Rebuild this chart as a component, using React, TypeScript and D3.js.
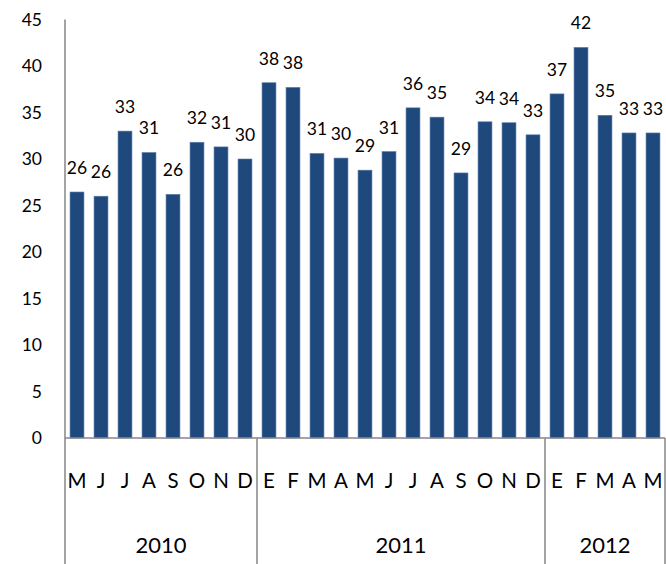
import React from "react";
import * as d3 from "d3";

const months = ["M","J","J","A","S","O","N","D","E","F","M","A","M","J","J","A","S","O","N","D","E","F","M","A","M"];
const values = [26.45,26.0,33.0,30.7,26.2,31.8,31.3,30.0,38.2,37.7,30.6,30.1,28.8,30.8,35.5,34.5,28.5,34.0,33.9,32.6,37.0,42.0,34.7,32.8,32.8];
const labels = [26,26,33,31,26,32,31,30,38,38,31,30,29,31,36,35,29,34,34,33,37,42,35,33,33];
const years = [
  { year: "2010", start: 0, end: 8 },
  { year: "2011", start: 8, end: 20 },
  { year: "2012", start: 20, end: 25 },
];
const yTicks = [0,5,10,15,20,25,30,35,40,45];

const W = 666, H = 564;
const left = 65, right = 665, top = 19.5, bottom = 438;
const font = "Lato, 'Open Sans', sans-serif";
const axisColor = "#868686";

export default function App() {
  const x = d3.scaleBand<number>().domain(d3.range(values.length)).range([left, right]).paddingInner(0.42).paddingOuter(0.21);
  const y = d3.scaleLinear().domain([0, 45]).range([bottom, top]);
  const step = (right - left) / values.length;
  return (
    <svg width={W} height={H} style={{ position: "absolute", left: 0, top: 0 }} fontFamily={font}>
      <rect width={W} height={H} fill="#fff" />
      {values.map((v, i) => (
        <rect key={i} x={x(i)} y={y(v)} width={x.bandwidth()} height={y(0) - y(v)} fill="#1f497d" stroke="#5a7eaa" strokeWidth={0.6} />
      ))}
      {values.map((v, i) => (
        <text key={"l" + i} x={x(i)! + x.bandwidth() / 2} y={y(v) - 18} textAnchor="middle" fontSize={17.5} fill="#000">{labels[i]}</text>
      ))}
      {yTicks.map((t) => (
        <text key={"t" + t} x={42} y={y(t) + 6} textAnchor="end" fontSize={17.5} fill="#000">{t}</text>
      ))}
      <line x1={left} x2={left} y1={top} y2={H} stroke={axisColor} strokeWidth={1.5} />
      <line x1={left} x2={right} y1={bottom} y2={bottom} stroke={axisColor} strokeWidth={1.5} />
      {years.map((yr) => (
        <g key={yr.year}>
          <line x1={left + yr.end * step} x2={left + yr.end * step} y1={bottom} y2={H} stroke={axisColor} strokeWidth={1.5} />
          <text x={left + ((yr.start + yr.end) / 2) * step} y={553} textAnchor="middle" fontSize={22} fill="#000">{yr.year}</text>
        </g>
      ))}
      {months.map((m, i) => (
        <text key={"m" + i} x={x(i)! + x.bandwidth() / 2} y={487.5} textAnchor="middle" fontSize={20.5} fill="#000">{m}</text>
      ))}
    </svg>
  );
}
